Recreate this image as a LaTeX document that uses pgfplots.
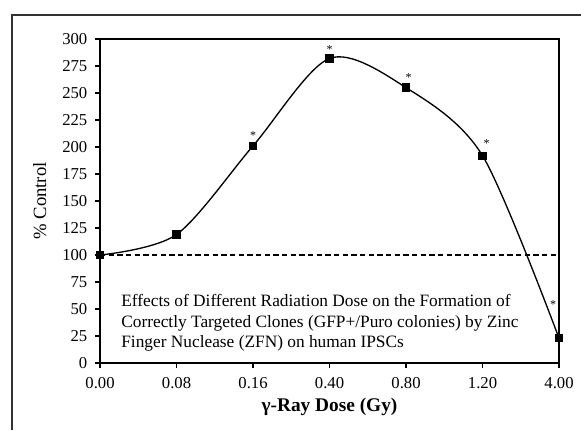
\documentclass[border=0pt]{standalone}
\usepackage{fontspec}
\setmainfont{Liberation Serif}
\usepackage{pgfplots}
\pgfplotsset{compat=1.18}

\begin{document}
\begin{tikzpicture}
  % page = 581 x 430 px, 1 px = 0.75 pt
  \useasboundingbox (0,0) rectangle (435.75pt,322.5pt);
  \draw[line width=1pt, black!80] (9pt,0) -- (9pt,311.25pt) -- (435.75pt,311.25pt);
  \begin{axis}[
    at={(75pt,50.25pt)}, anchor=south west,
    width=344.25pt, height=243pt, scale only axis,
    xmin=0, xmax=6, ymin=0, ymax=300,
    xtick={0,1,2,3,4,5,6},
    xticklabels={0.00,0.08,0.16,0.40,0.80,1.20,4.00},
    ytick={0,25,...,300},
    tick pos=left,
    tick align=outside, major tick length=3.5pt,
    tick style={black, line width=0.8pt},
    axis line style={line width=1.5pt},
    ticklabel style={font=\fontsize{12.5}{14}\selectfont},
    xticklabel style={yshift=-3.5pt},
    yticklabel style={xshift=-2.5pt},
    /pgf/number format/assume math mode=true,
    xlabel={\textbf{γ-Ray Dose (Gy)}},
    ylabel={\% Control},
    xlabel style={font=\fontsize{14.5}{16}\selectfont, at={(axis description cs:0.5,-0.135)}, anchor=center},
    ylabel style={font=\fontsize{14}{16}\selectfont, at={(axis description cs:-0.131,0.5)}, anchor=center},
    clip=false,
  ]
    % reference level
    \addplot[black, line width=0.9pt, dash pattern=on 4pt off 2.5pt] coordinates {(0,100) (6,100)};
    % dose response
    \addplot[black, line width=1pt, smooth, mark=square*, mark size=2.6pt,
             mark options={solid}] coordinates {
      (0,100) (1,119) (2,201) (3,282) (4,255) (5,192) (6,23)
    };
    % significance marks
    \node[font=\small] at (axis cs:2,201) [yshift=8pt] {*};
    \node[font=\small] at (axis cs:3,282) [yshift=7pt] {*};
    \node[font=\small] at (axis cs:4,255) [xshift=2pt, yshift=7.5pt] {*};
    \node[font=\small] at (axis cs:5,192) [xshift=3pt, yshift=9pt] {*};
    \node[font=\small] at (axis cs:6,23) [xshift=-4.5pt, yshift=25pt] {*};
    \node[anchor=west, align=left, inner sep=0pt,
          font=\fontsize{13}{15.3}\selectfont] at (axis cs:0.275,37)
      {Effects of Different Radiation Dose on the Formation of\\
       Correctly Targeted Clones (GFP+/Puro colonies) by Zinc\\
       Finger Nuclease (ZFN) on human IPSCs};
  \end{axis}
\end{tikzpicture}
\end{document}
